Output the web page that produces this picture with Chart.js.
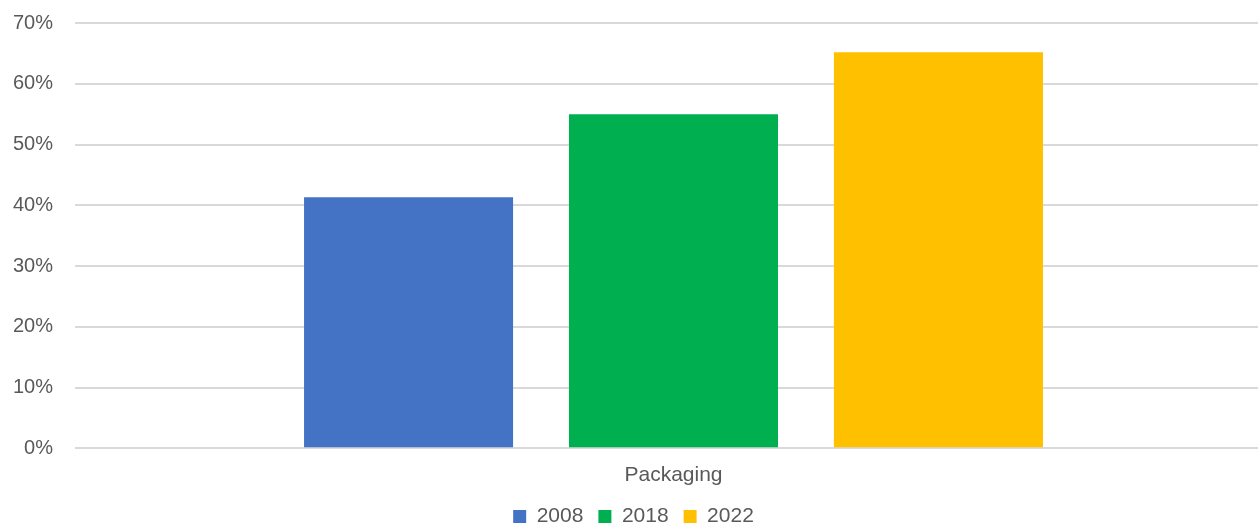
<!DOCTYPE html>
<html lang="en">
<head>
    <meta charset="UTF-8">
    <title>Packaging</title>
    <script src="https://cdn.jsdelivr.net/npm/chart.js"></script>
    <style>
        html, body {
            margin: 0;
            padding: 0;
            background: #fff;
            overflow: hidden;
        }
        .wrap {
            width: 1272px;
            height: 524px;
        }
    </style>
</head>
<body>
    <div class="wrap">
        <canvas id="chart"></canvas>
    </div>

    <script>
        // Data
        const categories = ['Packaging'];
        const years = ['2008', '2018', '2022'];
        const values2008 = [41.3];
        const values2018 = [55.0];
        const values2022 = [65.2];
        const yTicks = [0, 10, 20, 30, 40, 50, 60, 70];

        const colors = ['#4472C4', '#00B050', '#FFC000'];
        const seriesValues = [values2008, values2018, values2022];

        const textColor = '#595959';
        const font = { family: "'Liberation Sans', Arial, sans-serif", size: 21 };

        // nudge the legend a little to the left of the canvas centre
        const legendShift = {
            id: 'legendShift',
            afterLayout(chart) {
                const lg = chart.legend;
                lg.left -= 9;
                lg.right -= 9;
                if (lg.legendHitBoxes) lg.legendHitBoxes.forEach(b => { b.left -= 9; });
            }
        };

        const ctx = document.getElementById('chart').getContext('2d');
        const chart = new Chart(ctx, {
            type: 'bar',
            data: {
                labels: categories,
                datasets: years.map((y, i) => ({
                    label: y,
                    data: seriesValues[i],
                    backgroundColor: colors[i],
                    borderWidth: 0,
                    categoryPercentage: 0.664,
                    barPercentage: 0.789
                }))
            },
            options: {
                responsive: true,
                maintainAspectRatio: false,
                animation: false,
                layout: {
                    padding: { left: 13, right: 0, top: 23, bottom: -13 }
                },
                plugins: {
                    tooltip: { enabled: false },
                    legend: {
                        position: 'bottom',
                        labels: {
                            color: textColor,
                            font: font,
                            boxWidth: 13,
                            boxHeight: 13,
                            padding: 15
                        }
                    }
                },
                scales: {
                    x: {
                        afterFit: (axis) => {
                            axis.height -= 2.5;
                        },
                        grid: { display: false },
                        border: { display: false },
                        ticks: { color: textColor, font: font, padding: 6 }
                    },
                    y: {
                        min: 0,
                        max: 70,
                        afterBuildTicks: (axis) => {
                            axis.ticks = yTicks.map(v => ({ value: v }));
                        },
                        afterFit: (axis) => {
                            axis.width = 62;
                            axis.paddingTop = 0;
                            axis.paddingBottom = 0;
                        },
                        grid: {
                            color: '#D9D9D9',
                            lineWidth: 2,
                            drawTicks: false
                        },
                        border: { display: false },
                        ticks: {
                            color: textColor,
                            font: { family: font.family, size: 20 },
                            padding: 22,
                            callback: (v) => v + '%'
                        }
                    }
                }
            },
            plugins: [legendShift]
        });
    </script>
</body>
</html>
